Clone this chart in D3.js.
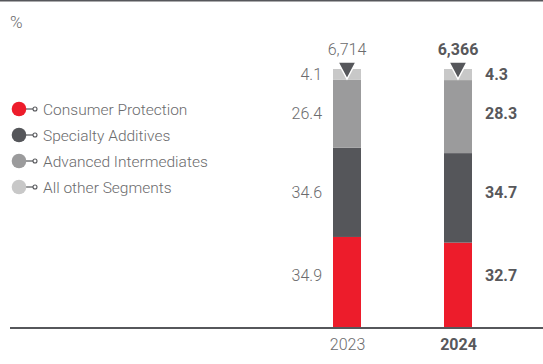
<!DOCTYPE html>
<html>
<head>
<meta charset="utf-8">
<script src="https://cdn.jsdelivr.net/npm/d3@7"></script>
<style>
  html, body { margin: 0; padding: 0; background: #fff; }
  svg { display: block; font-family: Roboto, "Open Sans", sans-serif; }
</style>
</head>
<body>
<svg id="chart" width="543" height="364"></svg>
<script>
// Sales by segment, share in %
const years = ["2023", "2024"];
const segments = ["Consumer Protection", "Specialty Additives", "Advanced Intermediates", "All other Segments"];
const consumerProtection = [34.9, 32.7];
const specialtyAdditives = [34.6, 34.7];
const advancedIntermediates = [26.4, 28.3];
const allOtherSegments = [4.1, 4.3];
const totals = ["6,714", "6,366"];
const segmentColors = ["#ed1c2b", "#55565a", "#9b9b9c", "#c8c8c8"];

const series = [consumerProtection, specialtyAdditives, advancedIntermediates, allOtherSegments];
const rows = years.map((yr, i) => {
  const r = { year: yr };
  segments.forEach((s, k) => { r[s] = series[k][i]; });
  return r;
});

const svg = d3.select("#chart");
const W = 543, H = 364;
const textGrey = "#6b6b6d", boldGrey = "#58585b", axisGrey = "#56575b";

// top rule
svg.append("rect").attr("x", 0).attr("y", 0).attr("width", W).attr("height", 1.5).attr("fill", axisGrey);

svg.append("text").attr("x", 10).attr("y", 28)
  .attr("font-size", 17).attr("font-weight", 300).attr("fill", textGrey).text("%");

const x = d3.scalePoint().domain(years).range([347, 458]);
const barW = 28;
const y = d3.scaleLinear().domain([0, 100]).range([327, 69]);

const stacked = d3.stack().keys(segments)(rows);

svg.append("g").selectAll("g").data(stacked).join("g")
  .attr("fill", (d, i) => segmentColors[i])
  .selectAll("rect").data(d => d).join("rect")
  .attr("x", d => x(d.data.year) - barW / 2)
  .attr("width", barW)
  .attr("y", d => y(d[1]))
  .attr("height", d => y(d[0]) - y(d[1]));

// segment value labels: left of the first bar, right of the second;
// vertical position follows the first year's segment middles, kept off the baseline
const anchors = stacked.map(layer => Math.max((layer[0][0] + layer[0][1]) / 2, 20));
years.forEach((yr, i) => {
  const latest = i === years.length - 1;
  svg.append("g").selectAll("text").data(series.map(s => s[i])).join("text")
    .attr("x", latest ? x(yr) + barW / 2 + 13 : x(yr) - barW / 2 - 11)
    .attr("y", (d, k) => y(anchors[k]))
    .attr("dy", "0.36em")
    .attr("text-anchor", latest ? "start" : "end")
    .attr("font-size", 16)
    .attr("font-weight", latest ? 700 : 300)
    .attr("fill", latest ? boldGrey : textGrey)
    .text(d => d.toFixed(1));
});

// totals with downward marker on top of each bar
years.forEach((yr, i) => {
  const latest = i === years.length - 1;
  const cx = x(yr), top = y(100);
  svg.append("path")
    .attr("d", d3.line()([[cx - 9, top - 7], [cx + 9, top - 7], [cx, top + 10]]) + "Z")
    .attr("fill", axisGrey).attr("stroke", "#fff").attr("stroke-width", 1.5)
    .attr("stroke-linejoin", "miter");
  svg.append("text")
    .attr("x", cx).attr("y", 55).attr("text-anchor", "middle")
    .attr("font-size", 16).attr("font-weight", latest ? 700 : 300)
    .attr("fill", latest ? boldGrey : textGrey).text(totals[i]);
});

// baseline and year axis
const xAxis = svg.append("g").attr("transform", "translate(0,350)")
  .call(d3.axisBottom(x).tickSize(0).tickPadding(0));
xAxis.select(".domain").remove();
xAxis.selectAll("text")
  .attr("dy", 0).attr("y", 0)
  .attr("font-family", "Roboto, sans-serif")
  .attr("font-size", 16)
  .attr("font-weight", d => d === years[years.length - 1] ? 700 : 300)
  .attr("fill", d => d === years[years.length - 1] ? boldGrey : textGrey);

svg.append("rect").attr("x", 10).attr("y", 327).attr("width", W - 10).attr("height", 2).attr("fill", axisGrey);

// legend
const legend = svg.append("g").selectAll("g").data(segments).join("g")
  .attr("transform", (d, i) => `translate(19,${109 + i * 26})`);
legend.append("line").attr("x1", 5).attr("x2", 14).attr("stroke", axisGrey).attr("stroke-width", 1.2);
legend.append("circle").attr("r", 7.3).attr("fill", (d, i) => segmentColors[i]);
legend.append("circle").attr("cx", 16).attr("r", 2).attr("fill", "#fff").attr("stroke", axisGrey).attr("stroke-width", 1.1);
legend.append("text").attr("x", 24).attr("dy", "0.36em")
  .attr("font-size", 15.5).attr("font-weight", 300).attr("fill", textGrey)
  .text(d => d);
</script>
</body>
</html>
